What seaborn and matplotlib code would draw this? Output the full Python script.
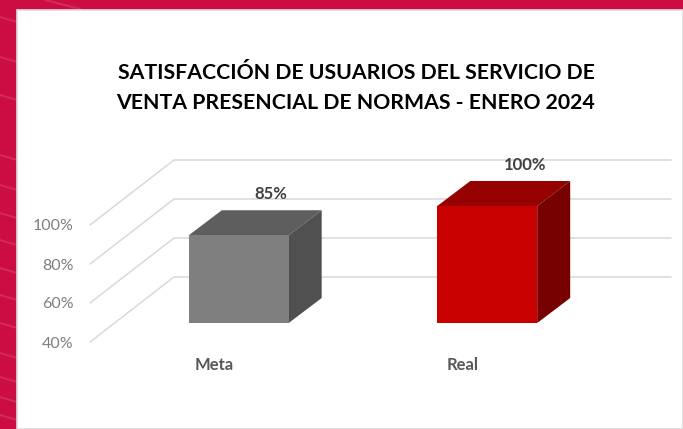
import pandas as pd
import matplotlib.pyplot as plt
import seaborn as sns
from matplotlib.lines import Line2D
from matplotlib.patches import Polygon, Rectangle
from matplotlib.transforms import Affine2D, IdentityTransform

categorias = ['Meta', 'Real']
valores = [85, 100]
etiquetas = ['85%', '100%']
ticks = [40, 60, 80, 100]
tick_labels = ['40%', '60%', '80%', '100%']
colores = ['#7f7f7f', '#c80000']
colores_techo = ['#5e5e5e', '#950000']
colores_lado = ['#505050', '#770000']
titulo = 'SATISFACCIÓN DE USUARIOS DEL SERVICIO DE\nVENTA PRESENCIAL DE NORMAS - ENERO 2024'

W, H = 683, 429
# profundidad de la pared del fondo y de la barra, en pixeles
PARED = (84, 65)
BARRA = (33, 25)
DESPLAZA = (24.5, 19)

sns.set_theme(style='white')
plt.rcParams['font.family'] = ['Lato', 'DejaVu Sans']

fig = plt.figure(figsize=(W / 100, H / 100), dpi=100, facecolor='#cb0d44')

# fondo: marco rojo con vetas claras y panel blanco
for y0 in [22, 62, 100, 160, 190, 218, 245, 273, 300, 328, 358, 382, 402, 420]:
    fig.add_artist(Line2D([0, 17 / W], [1 - (y0 - 5) / H, 1 - y0 / H], color='#e0567c', lw=1.4, alpha=0.4, zorder=-3))
fig.add_artist(Line2D([45 / W, 80 / W], [1, 1 - 9 / H], color='#e0567c', lw=1.6, alpha=0.4, zorder=-3))
fig.add_artist(Rectangle((17 / W, 0), 1 - 17 / W, 1 - 10 / H, transform=fig.transFigure,
                         facecolor='white', edgecolor='#dcdcdc', lw=1.2, zorder=-2))

ax = fig.add_axes([90 / W, 1 - 342 / H, (587 - 90) / W, (342 - 225) / H], facecolor='none')
df = pd.DataFrame({'categoria': categorias, 'valor': valores})
sns.barplot(data=df, x='categoria', y='valor', hue='categoria', palette=colores, legend=False,
            width=0.402, saturation=1, linewidth=0, ax=ax, zorder=3)
ax.set_xlim(-0.5, 1.5)
ax.set_ylim(ticks[0], ticks[-1])
ax.set_yticks(ticks, tick_labels)
ax.set_xlabel('')
ax.set_ylabel('')
ax.tick_params(axis='y', length=0, pad=12, labelsize=11.5, labelcolor='#7f7f7f')
ax.tick_params(axis='x', length=0, pad=11)
for lab in ax.get_xticklabels():
    lab.set(fontsize=12, fontweight='bold', color='#595959')
sns.despine(ax=ax, left=True, bottom=True)

# lineas de la cuadricula en perspectiva, en pixeles desde los ticks
for t in ticks:
    x0, y0 = ax.transData.transform((-0.5, t))
    x1, y1 = x0 + PARED[0], y0 + PARED[1]
    x2 = ax.transData.transform((1.5, t))[0] + PARED[0]
    ax.add_line(Line2D([x0, x1, x2], [y0, y1, y1], transform=IdentityTransform(),
                       color='#d9d9d9', lw=1.1, zorder=1, clip_on=False))

# barras: el frente sale del barplot, techo y lado se calculan del frente
desplaza = Affine2D().translate(*DESPLAZA)
for i, bar in enumerate(ax.patches[:len(valores)]):
    bar.set_height(bar.get_height() - ticks[0])
    bar.set_y(ticks[0])
    bar.set_transform(ax.transData + desplaza)
    bar.set_clip_on(False)
    xa, ya = desplaza.transform(ax.transData.transform((bar.get_x(), ticks[0])))
    xb, yb = desplaza.transform(ax.transData.transform((bar.get_x() + bar.get_width(), valores[i])))
    dx, dy = BARRA
    techo = Polygon([(xa, yb), (xb, yb), (xb + dx, yb + dy), (xa + dx, yb + dy)], closed=True,
                    transform=IdentityTransform(), facecolor=colores_techo[i], edgecolor='none',
                    zorder=2, clip_on=False)
    lado = Polygon([(xb, ya), (xb, yb), (xb + dx, yb + dy), (xb + dx, ya + dy)], closed=True,
                   transform=IdentityTransform(), facecolor=colores_lado[i], edgecolor='none',
                   zorder=2, clip_on=False)
    ax.add_artist(techo)
    ax.add_artist(lado)
    ax.text((xa + xb) / 2 + dx - 1 + i * 6, yb + dy + 16, etiquetas[i], transform=IdentityTransform(),
            ha='center', va='center', fontsize=12, fontweight='bold', color='#404040', zorder=4)

fig.text(356 / W, 1 - 88 / H, titulo, ha='center', va='center', fontsize=15.3, fontweight='bold',
         color='black', linespacing=1.6)

fig.savefig('out.png', dpi=100, facecolor=fig.get_facecolor())
